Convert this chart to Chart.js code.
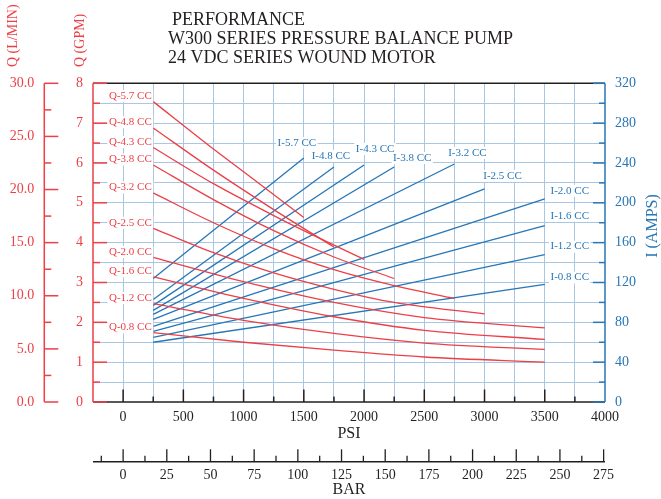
<!DOCTYPE html>
<html><head><meta charset="utf-8">
<script src="https://cdn.jsdelivr.net/npm/chart.js@4.4.1/dist/chart.umd.min.js"></script>
<style>html,body{margin:0;padding:0;background:#fff;}#wrap{width:661px;height:499px;}</style>
</head><body><div id="wrap"><canvas id="c" width="661" height="499"></canvas></div>
<script>
const RED='#ec3f46', BLUE='#2776b6', GRID='#a9c7e5', DARK='#231f20';
const FONT="'Liberation Serif','Times New Roman',serif";

const titleLines=['PERFORMANCE','W300 SERIES PRESSURE BALANCE PUMP','24 VDC SERIES WOUND MOTOR'];

// Flow curves (PSI, GPM)
const qNames=['Q-5.7 CC','Q-4.8 CC','Q-4.3 CC','Q-3.8 CC','Q-3.2 CC','Q-2.5 CC','Q-2.0 CC','Q-1.6 CC','Q-1.2 CC','Q-0.8 CC'];
const q57=[[250,7.54],[750,6.35],[1000,5.78],[1500,4.63]];
const q48=[[250,6.88],[750,5.82],[1250,4.83],[1750,3.89]];
const q43=[[250,6.39],[750,5.48],[1250,4.68],[1500,4.30],[2000,3.58]];
const q38=[[250,5.95],[750,5.08],[1250,4.30],[1750,3.64],[2250,3.10]];
const q32=[[250,5.25],[750,4.50],[1250,3.85],[1750,3.32],[2250,2.92],[2750,2.60]];
const q25=[[250,4.36],[750,3.75],[1250,3.24],[1750,2.83],[2250,2.50],[3000,2.21]];
const q20=[[250,3.63],[1000,3.02],[1750,2.50],[2500,2.12],[3500,1.86]];
const q16=[[250,3.14],[1000,2.60],[1750,2.14],[2500,1.80],[3500,1.57]];
const q12=[[250,2.47],[1000,2.05],[1750,1.72],[2500,1.48],[3500,1.32]];
const q08=[[250,1.74],[1000,1.50],[1750,1.30],[2500,1.13],[3500,1.00]];
const qSeries=[q57,q48,q43,q38,q32,q25,q20,q16,q12,q08];

// Current curves (PSI, AMPS)
const iNames=['I-5.7 CC','I-4.8 CC','I-4.3 CC','I-3.8 CC','I-3.2 CC','I-2.5 CC','I-2.0 CC','I-1.6 CC','I-1.2 CC','I-0.8 CC'];
const i57=[[250,124],[1500,245]];
const i48=[[250,103],[1750,236]];
const i43=[[250,97],[2000,238]];
const i38=[[250,92],[2250,236]];
const i32=[[250,88],[2750,239]];
const i25=[[250,83],[3000,214]];
const i20=[[250,76],[3500,204]];
const i16=[[250,71],[3500,177]];
const i12=[[250,65],[3500,148]];
const i08=[[250,60],[3500,118]];
const iSeries=[i57,i48,i43,i38,i32,i25,i20,i16,i12,i08];

// Axis ranges / ticks
const psiRange=[-250,4000];
const psiTicks=[-250,0,250,500,750,1000,1250,1500,1750,2000,2250,2500,2750,3000,3250,3500,3750,4000];
const barRange=[-250/14.5038,4000/14.5038];
const barTicks=[-12.5,0,12.5,25,37.5,50,62.5,75,87.5,100,112.5,125,137.5,150,162.5,175,187.5,200,212.5,225,237.5,250,262.5,275];
const gpmRange=[0,8], lminRange=[0,30], ampsRange=[0,320];

// label placement offsets (pixels) for I labels
const iLabelOffsets=[[-7,-15],[-3,-11],[11,-16],[18,-9],[13,-11],[18,-13],[25,-8],[25,-10],[25,-8],[25,-7]];

const datasets=[];
qSeries.forEach((s,i)=>datasets.push({label:qNames[i],data:s.map(([x,y])=>({x,y})),yAxisID:'yGPM',borderColor:RED,borderWidth:1.3,pointRadius:0,showLine:true,cubicInterpolationMode:'monotone',fill:false}));
iSeries.forEach((s,i)=>datasets.push({label:iNames[i],data:s.map(([x,y])=>({x,y})),yAxisID:'yAmps',borderColor:BLUE,borderWidth:1.3,pointRadius:0,showLine:true,fill:false}));

function ln(ctx,x1,y1,x2,y2,c,w){ctx.beginPath();ctx.strokeStyle=c;ctx.lineWidth=w;ctx.moveTo(x1,y1);ctx.lineTo(x2,y2);ctx.stroke();}
function boxText(ctx,t,x,y,align,color){
  ctx.font='11px '+FONT;
  const w=ctx.measureText(t).width;
  let l=align==='right'?x-w:(align==='center'?x-w/2:x);
  ctx.fillStyle='#fff';ctx.fillRect(l-1.5,y-6,w+3,12);
  ctx.fillStyle=color;ctx.textAlign=align;ctx.textBaseline='middle';ctx.fillText(t,x,y);
}

const deco={
  id:'deco',
  afterDraw(chart){
    const {ctx,chartArea:a,scales:s}=chart;
    ctx.save();
    // frame
    ln(ctx,a.left,a.top,a.right,a.top,DARK,1.5);
    ln(ctx,a.left,a.bottom,a.right,a.bottom,DARK,1.5);
    ln(ctx,a.left,a.top,a.left,a.bottom,RED,1.5);
    ln(ctx,a.right,a.top,a.right,a.bottom,BLUE,1.5);
    // PSI ticks (upward)
    psiTicks.forEach(v=>{ if(v<0||v>=4000) return; const x=s.x.getPixelForValue(v); ln(ctx,x,a.bottom,x,a.bottom-(v%500===0?12.5:5.5),DARK,1.5);});
    // BAR axis
    const by=s.xBar.top+1.5;
    ln(ctx,a.left,by,a.right,by,DARK,1.5);
    barTicks.forEach(v=>{const x=s.xBar.getPixelForValue(v); ln(ctx,x,by,x,by-(v%25===0?12.5:6),DARK,1.3);});
    // GPM ticks (inward)
    for(let v=0;v<=8;v+=0.5){const y=s.yGPM.getPixelForValue(v); ln(ctx,a.left,y,a.left+(v%1===0?14:7),y,RED,1.5);}
    // L/MIN axis
    const lx=s.yLmin.right;
    ln(ctx,lx,a.top,lx,a.bottom,RED,1.5);
    for(let v=0;v<=30;v+=2.5){const y=s.yLmin.getPixelForValue(v); ln(ctx,lx,y,lx+(v%5===0?14:7),y,RED,1.5);}
    // AMPS ticks (inward)
    for(let v=0;v<=320;v+=20){const y=s.yAmps.getPixelForValue(v); ln(ctx,a.right,y,a.right-(v%40===0?12:6),y,BLUE,1.5);}
    // titles
    ctx.fillStyle=DARK;ctx.font='18px '+FONT;ctx.textAlign='left';ctx.textBaseline='alphabetic';
    ctx.fillText(titleLines[0],172,24.5);
    ctx.fillText(titleLines[1],168,44.3);
    ctx.fillText(titleLines[2],168,63);
    // axis titles
    ctx.font='16px '+FONT;ctx.textAlign='center';ctx.textBaseline='middle';ctx.fillStyle=DARK;
    ctx.fillText('PSI',(a.left+a.right)/2,433.5);
    ctx.fillText('BAR',(a.left+a.right)/2,489.5);
    ctx.font='14px '+FONT;ctx.fillStyle=RED;ctx.textAlign='left';
    ctx.save();ctx.translate(13,67);ctx.rotate(-Math.PI/2);ctx.fillText('Q (L/MIN)',0,0);ctx.restore();
    ctx.save();ctx.translate(80,67);ctx.rotate(-Math.PI/2);ctx.fillText('Q (GPM)',0,0);ctx.restore();
    ctx.font='16px '+FONT;ctx.fillStyle=BLUE;ctx.textAlign='center';
    ctx.save();ctx.translate(653,226);ctx.rotate(-Math.PI/2);ctx.fillText('I (AMPS)',0,0);ctx.restore();
    // curve labels
    qSeries.forEach((sr,i)=>{const p=sr[0];boxText(ctx,qNames[i],s.x.getPixelForValue(p[0])-1.5,s.yGPM.getPixelForValue(p[1])-5.5,'right',RED);});
    iSeries.forEach((sr,i)=>{const p=sr[sr.length-1];boxText(ctx,iNames[i],s.x.getPixelForValue(p[0])+iLabelOffsets[i][0],s.yAmps.getPixelForValue(p[1])+iLabelOffsets[i][1],'center',BLUE);});
    ctx.restore();
  }
};

Chart.defaults.font.family=FONT;
new Chart(document.getElementById('c'),{
  type:'scatter',
  data:{datasets},
  plugins:[deco],
  options:{
    responsive:false,animation:false,
    layout:{padding:{top:83.3,left:0,right:0,bottom:0}},
    plugins:{legend:{display:false},tooltip:{enabled:false}},
    scales:{
      x:{type:'linear',position:'bottom',weight:0,min:psiRange[0],max:psiRange[1],
        afterBuildTicks:ax=>{ax.ticks=psiTicks.map(v=>({value:v}));},
        afterFit:ax=>{ax.height=58.3;},
        ticks:{autoSkip:false,maxRotation:0,padding:7,color:DARK,font:{size:14},callback:v=>(v>=0&&v%500===0)?String(v):''},
        grid:{drawTicks:false,color:c=>(c.tick&&c.tick.value>=0&&c.tick.value<4000)?GRID:'rgba(0,0,0,0)',lineWidth:1},
        border:{display:false}},
      xBar:{type:'linear',position:'bottom',weight:1,min:barRange[0],max:barRange[1],
        afterBuildTicks:ax=>{ax.ticks=barTicks.map(v=>({value:v}));},
        afterFit:ax=>{ax.height=38.7;},
        ticks:{autoSkip:false,maxRotation:0,padding:7,color:DARK,font:{size:14},callback:v=>(v>=0&&v%25===0)?String(v):''},
        grid:{display:false,drawTicks:false},border:{display:false}},
      yGPM:{type:'linear',position:'left',weight:0,min:gpmRange[0],max:gpmRange[1],
        afterFit:ax=>{ax.width=48.7;},
        ticks:{stepSize:1,padding:10,color:RED,font:{size:14}},
        grid:{display:false,drawTicks:false},border:{display:false}},
      yLmin:{type:'linear',position:'left',weight:1,min:lminRange[0],max:lminRange[1],
        afterFit:ax=>{ax.width=44.3;},
        ticks:{stepSize:5,padding:10,color:RED,font:{size:14},callback:v=>Number(v).toFixed(1)},
        grid:{display:false,drawTicks:false},border:{display:false}},
      yAmps:{type:'linear',position:'right',weight:0,min:ampsRange[0],max:ampsRange[1],
        afterFit:ax=>{ax.width=56;},
        ticks:{stepSize:20,padding:10,color:BLUE,font:{size:14},callback:v=>(v%40===0)?String(v):''},
        grid:{drawTicks:false,color:c=>(c.tick&&c.tick.value>0&&c.tick.value<320)?GRID:'rgba(0,0,0,0)',lineWidth:1},
        border:{display:false}}
    }
  }
});
</script></body></html>
